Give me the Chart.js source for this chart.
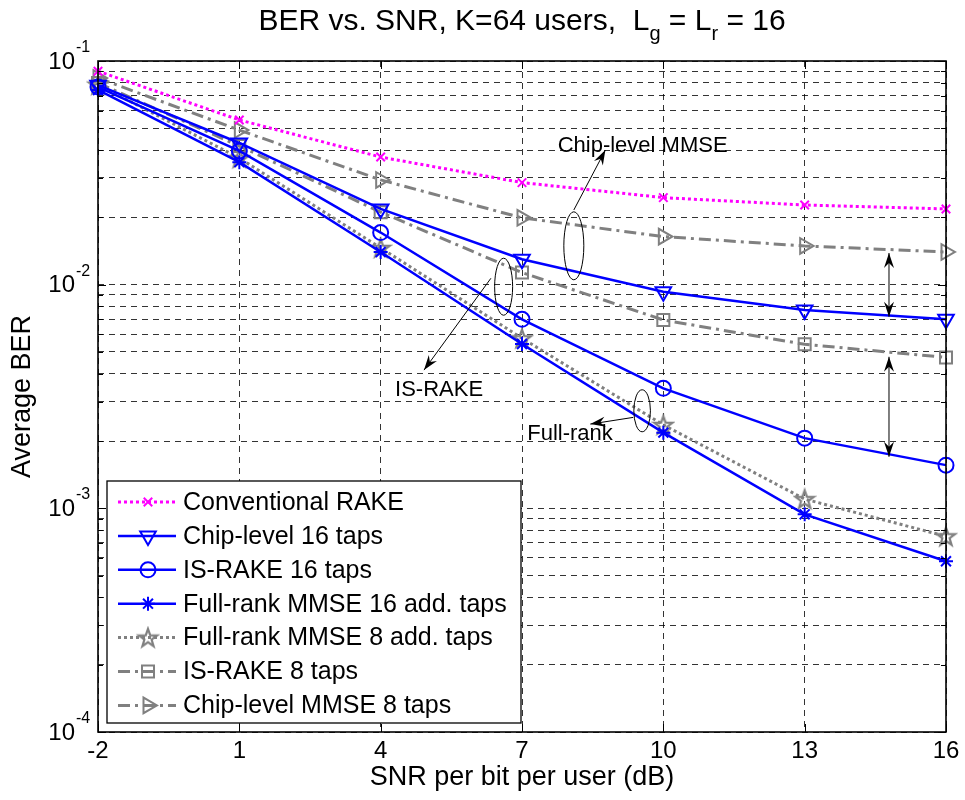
<!DOCTYPE html>
<html lang="en">
<head>
<meta charset="UTF-8">
<title>BER vs. SNR</title>
<script src="https://cdn.jsdelivr.net/npm/chart.js"></script>
<style>
  html, body { margin: 0; padding: 0; background: #fff; }
</style>
</head>
<body>
<canvas id="berChart" width="965" height="800"></canvas>

<script>
// SNR per bit per user (dB) - also the x tick labels
var snr = [-2, 1, 4, 7, 10, 13, 16];

// average BER per curve
var convRake  = [0.0900, 0.0545, 0.0372, 0.0286, 0.0245, 0.0227, 0.0218];
var chip16    = [0.0780, 0.0430, 0.0218, 0.0130, 0.0093, 0.0077, 0.0070];
var isRake16  = [0.0765, 0.0396, 0.0171, 0.0070, 0.00344, 0.00206, 0.00156];
var full16    = [0.0742, 0.0353, 0.0140, 0.00543, 0.00218, 0.00094, 0.00058];
var full8     = [0.0784, 0.0368, 0.0146, 0.00576, 0.00236, 0.00110, 0.00075];
var isRake8   = [0.0797, 0.0417, 0.0211, 0.01133, 0.00695, 0.00541, 0.00473];
var chipMmse8 = [0.0839, 0.0491, 0.0294, 0.0199, 0.0164, 0.0149, 0.0140];

// y tick labels are 10^e for these exponents
var yDecades = [-4, -3, -2, -1];

// annotations, in data units (x in dB, y as BER)
var noteEllipses = [[8.10, 0.01492, 10, 34], [6.61, 0.00979, 9, 28.5], [9.55, 0.00273, 8.3, 21]];
var noteArrows = [
    [8.10, 0.02157, 8.77, 0.0400, false],
    [6.34, 0.01068, 4.92, 0.00415, false],
    [9.36, 0.00255, 8.45, 0.00238, false],
    [14.79, 0.01385, 14.79, 0.00719, true],
    [14.79, 0.00476, 14.79, 0.00170, true]
];
var noteTexts = [['Chip-level MMSE', 9.56, 0.0419], ['IS-RAKE', 5.24, 0.00338], ['Full-rank', 8.02, 0.00215]];

var FONT = '"Liberation Sans", Arial, Helvetica, sans-serif';
var BLUE = '#0000ff', GRAY = '#808080', MAGENTA = '#ff00ff';

function pts(vals) {
    return snr.map(function (x, i) { return { x: x, y: vals[i] }; });
}

// hollow five-point star marker (no pentagram in Chart.js)
function starMarker(color) {
    var c = document.createElement('canvas');
    c.width = 24; c.height = 24;
    var g = c.getContext('2d');
    g.beginPath();
    for (var i = 0; i < 10; i++) {
        var r = i % 2 ? 3.8 : 9.5;
        var a = -Math.PI / 2 + i * Math.PI / 5;
        var px = 12 + r * Math.cos(a), py = 12.8 + r * Math.sin(a);
        if (i === 0) g.moveTo(px, py); else g.lineTo(px, py);
    }
    g.closePath();
    g.lineWidth = 2.2;
    g.strokeStyle = color;
    g.stroke();
    return c;
}

function series(label, vals, color, dash, style, radius, rotation) {
    return {
        label: label,
        data: pts(vals),
        borderColor: color,
        borderWidth: dash.length ? 3 : 2.5,
        borderDash: dash,
        pointStyle: style,
        pointRadius: radius,
        pointRotation: rotation || 0,
        pointBorderColor: color,
        pointBackgroundColor: 'rgba(0,0,0,0)',
        pointBorderWidth: 2,
        tension: 0,
        clip: false
    };
}

var DOT = [3, 3], DASHDOT = [12, 5, 3, 5];

var datasets = [
    series('Conventional RAKE', convRake, MAGENTA, DOT, 'crossRot', 6),
    series('Chip-level 16 taps', chip16, BLUE, [], 'triangle', 9, 180),
    series('IS-RAKE 16 taps', isRake16, BLUE, [], 'circle', 7.5),
    series('Full-rank MMSE 16 add. taps', full16, BLUE, [], 'star', 7),
    series('Full-rank MMSE 8 add. taps', full8, GRAY, DOT, starMarker(GRAY), 9),
    series('IS-RAKE 8 taps', isRake8, GRAY, DASHDOT, 'rect', 8.5),
    series('Chip-level MMSE 8 taps', chipMmse8, GRAY, DASHDOT, 'triangle', 9, 90)
];

function arrowHead(ctx, x1, y1, x2, y2) {
    var ang = Math.atan2(y2 - y1, x2 - x1), c = Math.cos(ang), s = Math.sin(ang);
    var L = 15, W = 5, B = 10;
    ctx.beginPath();
    ctx.moveTo(x2, y2);
    ctx.lineTo(x2 - L * c + W * s, y2 - L * s - W * c);
    ctx.lineTo(x2 - B * c, y2 - B * s);
    ctx.lineTo(x2 - L * c - W * s, y2 - L * s + W * c);
    ctx.closePath();
    ctx.fill();
}

var decorations = {
    id: 'decorations',
    afterDraw: function (chart) {
        var ctx = chart.ctx, a = chart.chartArea, xs = chart.scales.x, ys = chart.scales.y;
        ctx.save();

        // inward tick marks on all four sides
        ctx.strokeStyle = '#000';
        ctx.lineWidth = 1;
        ctx.setLineDash([]);
        ctx.beginPath();
        ys.ticks.forEach(function (t) {
            var py = Math.round(ys.getPixelForValue(t.value)) + 0.5, len = t.major ? 8 : 5;
            ctx.moveTo(a.left, py); ctx.lineTo(a.left + len, py);
            ctx.moveTo(a.right - len, py); ctx.lineTo(a.right, py);
        });
        xs.ticks.forEach(function (t) {
            var px = Math.round(xs.getPixelForValue(t.value)) + 0.5;
            ctx.moveTo(px, a.bottom); ctx.lineTo(px, a.bottom - 8);
            ctx.moveTo(px, a.top); ctx.lineTo(px, a.top + 8);
        });
        ctx.stroke();

        // axes box
        ctx.lineWidth = 1.6;
        ctx.strokeRect(a.left, a.top, a.right - a.left, a.bottom - a.top);

        // y tick labels 10^e
        ctx.fillStyle = '#000';
        yDecades.forEach(function (e) {
            var py = ys.getPixelForValue(Math.pow(10, e));
            ctx.font = '24px ' + FONT;
            ctx.textAlign = 'right';
            ctx.textBaseline = 'middle';
            ctx.fillText('10', a.left - 23, py + 1);
            ctx.font = '16px ' + FONT;
            ctx.textAlign = 'left';
            ctx.textBaseline = 'alphabetic';
            ctx.fillText(String(e), a.left - 22, py - 9);
        });

        // title with subscripts
        var parts = [['BER vs. SNR, K=64 users,  L', 0], ['g', 1], [' = L', 0], ['r', 1], [' = 16', 0]];
        var total = 0;
        parts.forEach(function (p) {
            ctx.font = (p[1] ? '20px ' : '30px ') + FONT;
            p.push(ctx.measureText(p[0]).width);
            total += p[2];
        });
        var tx = (a.left + a.right) / 2 - total / 2;
        ctx.textAlign = 'left';
        ctx.textBaseline = 'alphabetic';
        parts.forEach(function (p) {
            ctx.font = (p[1] ? '20px ' : '30px ') + FONT;
            ctx.fillText(p[0], tx, p[1] ? 40 : 30);
            tx += p[2];
        });

        // annotations
        ctx.lineWidth = 1;
        noteEllipses.forEach(function (el) {
            ctx.beginPath();
            ctx.ellipse(xs.getPixelForValue(el[0]), ys.getPixelForValue(el[1]), el[2], el[3], 0, 0, Math.PI * 2);
            ctx.stroke();
        });
        noteArrows.forEach(function (ar) {
            var x1 = xs.getPixelForValue(ar[0]), y1 = ys.getPixelForValue(ar[1]);
            var x2 = xs.getPixelForValue(ar[2]), y2 = ys.getPixelForValue(ar[3]);
            ctx.beginPath();
            ctx.moveTo(x1, y1); ctx.lineTo(x2, y2);
            ctx.stroke();
            arrowHead(ctx, x1, y1, x2, y2);
            if (ar[4]) arrowHead(ctx, x2, y2, x1, y1);
        });
        ctx.font = '22px ' + FONT;
        ctx.textAlign = 'center';
        ctx.textBaseline = 'middle';
        noteTexts.forEach(function (t) {
            ctx.fillText(t[0], xs.getPixelForValue(t[1]), ys.getPixelForValue(t[2]));
        });

        // legend box, lower left inside the axes
        var lx = a.left + 9, lb = a.bottom - 9, lw = 414, lh = 242, lt = lb - lh;
        ctx.fillStyle = '#fff';
        ctx.fillRect(lx, lt, lw, lh);
        ctx.strokeStyle = '#000';
        ctx.lineWidth = 1.3;
        ctx.strokeRect(lx, lt, lw, lh);
        chart.data.datasets.forEach(function (ds, i) {
            var cy = lt + 21 + i * 33.9;
            ctx.strokeStyle = ds.borderColor;
            ctx.lineWidth = ds.borderWidth;
            ctx.setLineDash(ds.borderDash);
            ctx.beginPath();
            ctx.moveTo(lx + 11, cy); ctx.lineTo(lx + 69, cy);
            ctx.stroke();
            ctx.setLineDash([]);
            ctx.lineWidth = ds.pointBorderWidth;
            ctx.fillStyle = 'rgba(0,0,0,0)';
            Chart.helpers.drawPoint(ctx, {
                pointStyle: ds.pointStyle, rotation: ds.pointRotation,
                radius: ds.pointRadius, borderWidth: ds.pointBorderWidth
            }, lx + 41, cy);
            ctx.fillStyle = '#000';
            ctx.font = '25px ' + FONT;
            ctx.textAlign = 'left';
            ctx.textBaseline = 'middle';
            ctx.fillText(ds.label, lx + 76, cy + 1);
        });

        ctx.restore();
    }
};

new Chart(document.getElementById('berChart'), {
    type: 'line',
    data: { datasets: datasets },
    options: {
        responsive: false,
        animation: false,
        devicePixelRatio: 1,
        layout: { autoPadding: false, padding: { top: 61, right: 19, bottom: 0, left: 0 } },
        plugins: { legend: { display: false }, tooltip: { enabled: false }, title: { display: false } },
        scales: {
            x: {
                type: 'linear',
                min: -2,
                max: 16,
                afterBuildTicks: function (scale) {
                    scale.ticks = snr.map(function (v) { return { value: v }; });
                },
                afterFit: function (scale) { scale.height = 68; },
                grid: { color: 'rgba(0,0,0,0.8)', lineWidth: 1, drawTicks: false },
                border: { display: false, dash: [6, 5] },
                ticks: { color: '#000', font: { family: FONT, size: 24 }, padding: 5, maxRotation: 0 },
                title: {
                    display: true, text: 'SNR per bit per user (dB)', color: '#000',
                    font: { family: FONT, size: 27 }, padding: { top: 0, bottom: 6 }
                }
            },
            y: {
                type: 'logarithmic',
                min: 1e-4,
                max: 1e-1,
                afterBuildTicks: function (scale) {
                    var t = [];
                    yDecades.forEach(function (e) {
                        for (var m = 1; m <= 9; m++) {
                            if (e === -1 && m > 1) break;
                            t.push({ value: m * Math.pow(10, e), major: m === 1 });
                        }
                    });
                    scale.ticks = t;
                },
                afterFit: function (scale) { scale.width = 98; },
                grid: { color: 'rgba(0,0,0,0.8)', lineWidth: 1, drawTicks: false },
                border: { display: false, dash: [6, 5] },
                ticks: { display: false },
                title: {
                    display: true, text: 'Average BER', color: '#000',
                    font: { family: FONT, size: 27 }, padding: { top: 6, bottom: 0 }
                }
            }
        }
    },
    plugins: [decorations]
});
</script>
</body>
</html>
